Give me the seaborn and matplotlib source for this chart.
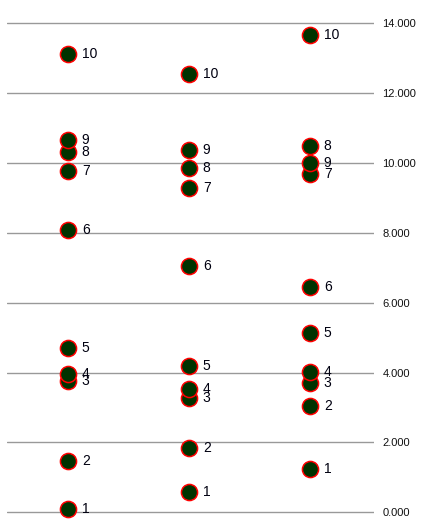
import pandas as pd
import numpy as np
import matplotlib
matplotlib.use("Agg")
import matplotlib.pyplot as plt
import seaborn as sns

# values, ranks 1..10 per column
ranks = list(range(1, 11))
col_a = [0.10, 1.48, 3.77, 3.96, 4.70, 8.07, 9.77, 10.32, 10.67, 13.13]
col_b = [0.59, 1.83, 3.28, 3.52, 4.20, 7.05, 9.29, 9.87, 10.38, 12.56]
col_c = [1.25, 3.05, 3.71, 4.02, 5.14, 6.46, 9.69, 10.50, 10.01, 13.67]
y_ticks = [0, 2, 4, 6, 8, 10, 12, 14]

df = pd.DataFrame({
    "col": [0] * 10 + [1] * 10 + [2] * 10,
    "value": col_a + col_b + col_c,
    "rank": ranks * 3,
})

sns.set_style("white")
plt.rcParams["font.family"] = ["Liberation Sans", "DejaVu Sans"]

fig = plt.figure(figsize=(4.3, 5.3), dpi=100)
ax = fig.add_axes([7 / 430, 0, 367 / 430, 1])

sns.scatterplot(data=df, x="col", y="value", ax=ax, s=135, color="#003300",
                edgecolor="red", linewidth=1.1, zorder=3, legend=False)

for c, v, rk in zip(df["col"], df["value"], df["rank"]):
    ax.annotate(str(int(rk)), (c, v), xytext=(10, 0),
                textcoords="offset points", va="center", ha="left",
                fontsize=10, color="#000010", zorder=4)

ax.set_xlim(-0.504, 2.53)
ax.set_ylim(-0.51, 14.67)
ax.set_yticks(y_ticks)
ax.set_yticklabels([f"{v:.3f}" for v in y_ticks])
ax.yaxis.tick_right()
ax.tick_params(axis="y", length=0, pad=6, labelsize=8, labelcolor="#111111")
ax.set_xticks([])
ax.set_xlabel("")
ax.set_ylabel("")
ax.grid(axis="y", color="#999999", linewidth=1.0)
ax.set_axisbelow(True)
for sp in ax.spines.values():
    sp.set_visible(False)

fig.savefig("out.png", dpi=100)
